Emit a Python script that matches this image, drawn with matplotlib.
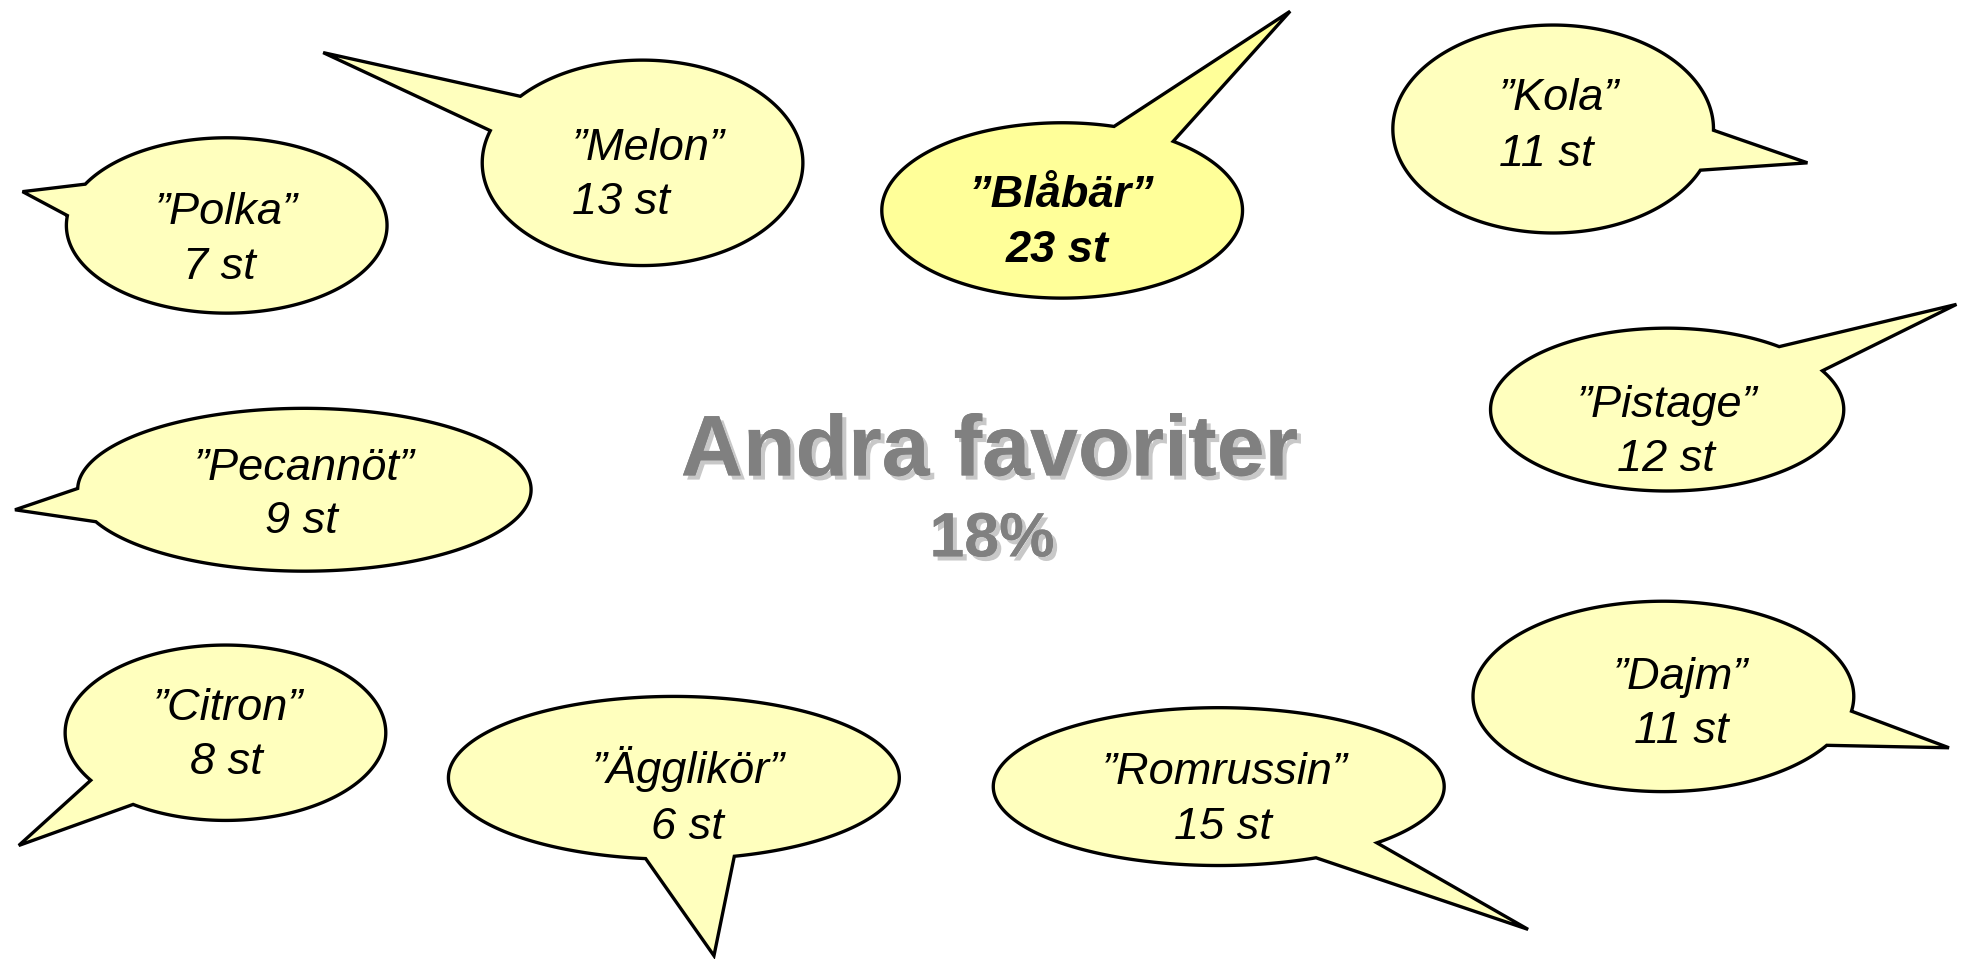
import numpy as np
import matplotlib
matplotlib.use("Agg")
import matplotlib.pyplot as plt
from matplotlib.patches import Polygon
import matplotlib.patheffects as pe

plt.rcParams['font.family'] = ['Liberation Sans', 'DejaVu Sans']
plt.rcParams['hatch.linewidth'] = 0.8
plt.rcParams['hatch.color'] = '#FFFFEC'

# data
flavors = ['Polka', 'Melon', 'Blåbär', 'Kola', 'Pistage',
           'Pecannöt', 'Citron', 'Ägglikör', 'Romrussin', 'Dajm']
counts = [7, 13, 23, 11, 12, 9, 8, 6, 15, 11]
title = 'Andra favoriter'
share = '18%'

# layout (pixels in the 1568x766 view, scaled below)
centers = [(181, 180), (513, 130), (848, 168), (1240, 103), (1331, 327),
           (243, 391), (180, 585), (538, 621), (973, 628), (1328, 556)]
radii = [(128, 70), (128, 82), (144, 70), (128, 83), (141, 65),
         (181, 65), (128, 70), (180, 65), (180, 63), (152, 76)]
tips = [(18, 153), (258, 42), (1030, 9), (1443, 130), (1562, 243),
        (12, 407), (15, 675), (570, 763), (1220, 742), (1556, 597)]
bases = [((68, 147), (52, 172)), ((412, 75), (390, 104)), ((890, 100), (938, 112)),
         ((1368, 104), (1358, 136)), ((1420, 277), (1455, 296)),
         ((66, 390), (80, 416)), ((78, 621), (113, 637)), ((516, 684), (585, 682)),
         ((1055, 688), (1108, 676)), ((1481, 568), (1465, 597))]
# centre of the cap height of each text line
text_pos = [(181, 166, 175, 210), (457, 115, 457, 158), (848, 152, 844, 196),
            (1197, 75, 1197, 120), (1331, 320, 1330, 363), (243, 370, 241, 413),
            (182, 562, 181, 605), (550, 612, 549, 657), (978, 613, 976, 657),
            (1342, 537, 1342, 580)]
left_aligned = ['Melon', 'Kola']
highlight = 'Blåbär'

s = 1964 / 1568
fs = 32.5

fig = plt.figure(figsize=(19.64, 9.59), dpi=100)
ax = fig.add_axes([0, 0, 1, 1])
ax.set_xlim(0, 1964)
ax.set_ylim(959, 0)
ax.axis('off')


def bubble(c, r, tip, base):
    cx, cy = c
    a, b = r
    t1 = np.arctan2((base[0][1] - cy) / b, (base[0][0] - cx) / a)
    t2 = np.arctan2((base[1][1] - cy) / b, (base[1][0] - cx) / a)
    d = (t2 - t1) % (2 * np.pi)
    if d > np.pi:
        t1, t2 = t2, t1
        d = 2 * np.pi - d
    ts = np.linspace(t1 + d, t1 + 2 * np.pi, 300)
    pts = np.column_stack([cx + a * np.cos(ts), cy + b * np.sin(ts)])
    pts = np.vstack([pts, [tip]])
    return pts * s


cap_half = 0.716 * fs * 100 / 72 / 2  # px, full size

for i, name in enumerate(flavors):
    pts = bubble(centers[i], radii[i], tips[i], bases[i])
    if name == highlight:
        ax.add_patch(Polygon(pts, closed=True, facecolor='#FFFF99', edgecolor='none', zorder=1))
    else:
        ax.add_patch(Polygon(pts, closed=True, facecolor='#FFFFBE', edgecolor='none', zorder=1))
        ax.add_patch(Polygon(pts, closed=True, facecolor='none', edgecolor='none',
                             hatch='-------', zorder=2))
    ax.add_patch(Polygon(pts, closed=True, facecolor='none', edgecolor='black',
                         linewidth=2.4, joinstyle='miter', zorder=3))

    x1, y1, x2, y2 = text_pos[i]
    weight = 'bold' if name == highlight else 'normal'
    ha = 'left' if name in left_aligned else 'center'
    label1 = '\u201d' + name + '\u201d'
    label2 = f'{counts[i]} st'
    ax.text(x1 * s, y1 * s + cap_half, label1, fontsize=fs, style='italic', weight=weight,
            ha=ha, va='baseline', zorder=4)
    ax.text(x2 * s, y2 * s + cap_half, label2, fontsize=fs, style='italic', weight=weight,
            ha=ha, va='baseline', zorder=4)

shadow = [pe.withSimplePatchShadow(offset=(3, -3), shadow_rgbFace='#C8C8C8', alpha=1.0), pe.Normal()]
ax.text(790 * s, 362 * s, title, fontsize=62, weight='bold', color='#808080',
        ha='center', va='center', path_effects=shadow)
ax.text(792 * s, 431 * s, share, fontsize=45, weight='bold', color='#808080',
        ha='center', va='center', path_effects=shadow)

fig.savefig('out.png', dpi=100)
